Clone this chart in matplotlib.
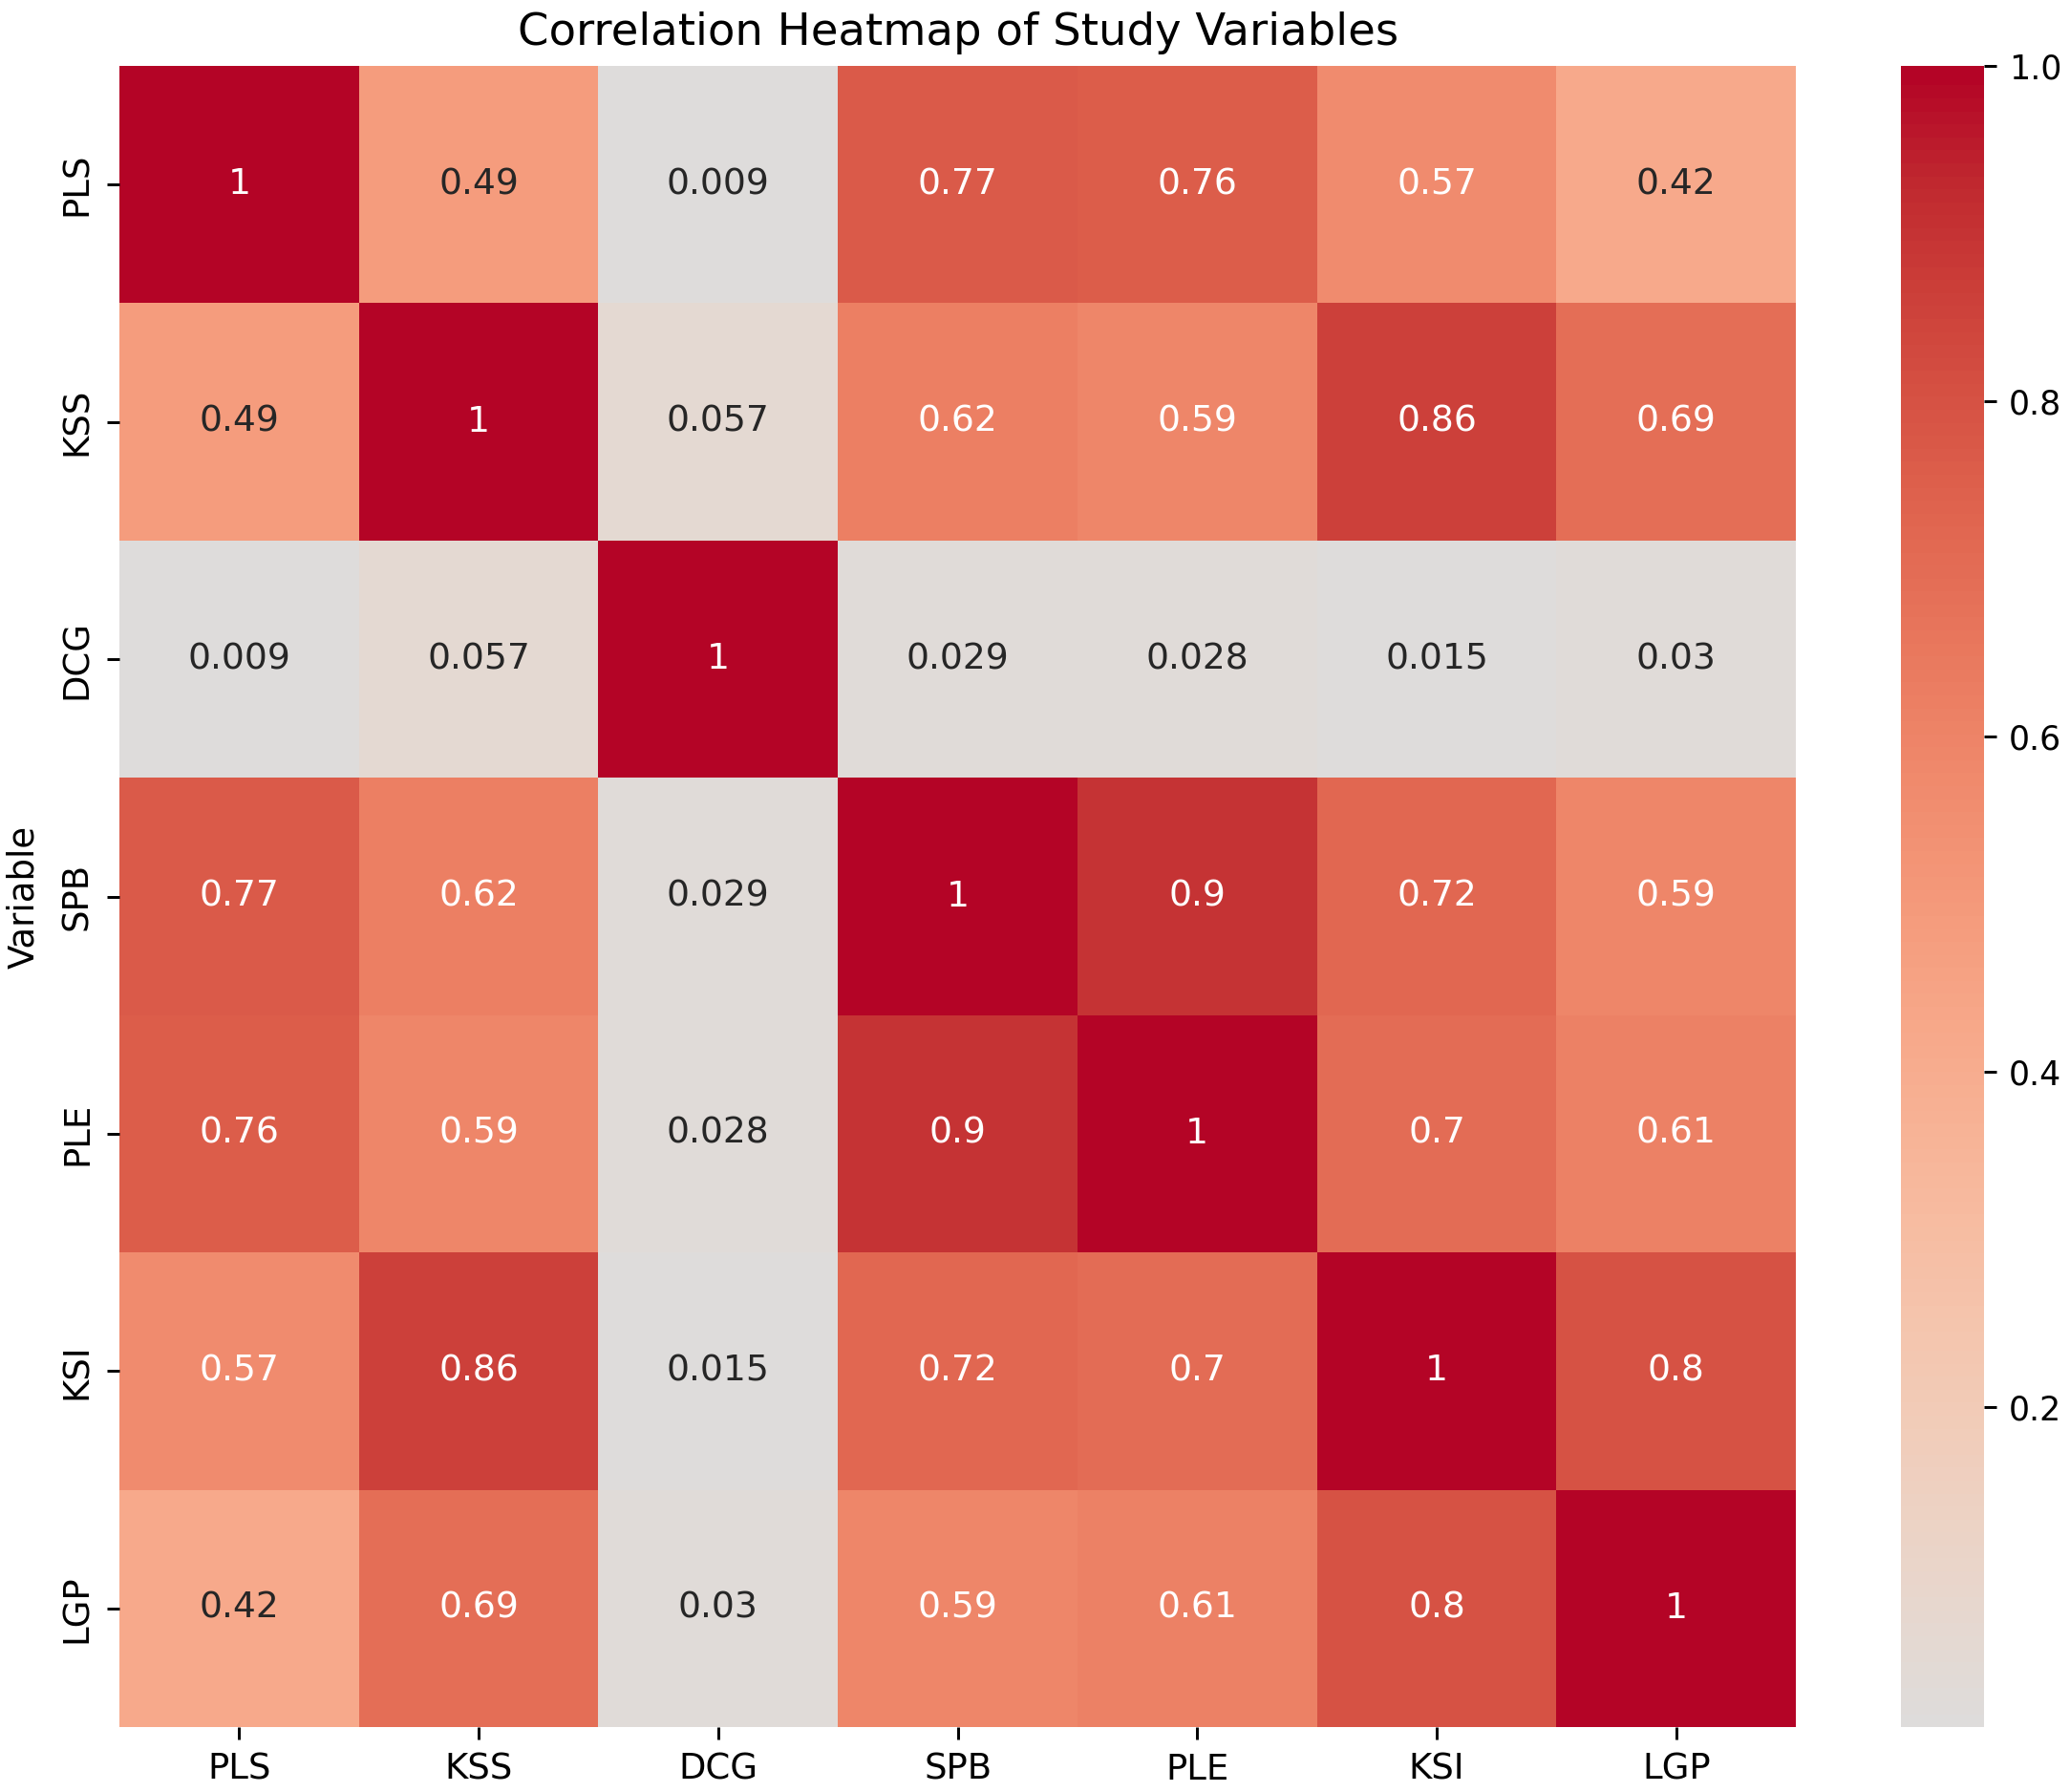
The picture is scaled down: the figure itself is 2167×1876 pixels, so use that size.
import matplotlib
matplotlib.use("Agg")
import matplotlib.pyplot as plt
import seaborn as sns
import pandas as pd

variables = ["PLS", "KSS", "DCG", "SPB", "PLE", "KSI", "LGP"]

pls = [1, 0.49, 0.009, 0.77, 0.76, 0.57, 0.42]
kss = [0.49, 1, 0.057, 0.62, 0.59, 0.86, 0.69]
dcg = [0.009, 0.057, 1, 0.029, 0.028, 0.015, 0.03]
spb = [0.77, 0.62, 0.029, 1, 0.9, 0.72, 0.59]
ple = [0.76, 0.59, 0.028, 0.9, 1, 0.7, 0.61]
ksi = [0.57, 0.86, 0.015, 0.72, 0.7, 1, 0.8]
lgp = [0.42, 0.69, 0.03, 0.59, 0.61, 0.8, 1]

corr = pd.DataFrame([pls, kss, dcg, spb, ple, ksi, lgp],
                    index=variables, columns=variables)

dpi = 266
fig = plt.figure(figsize=(2167 / dpi, 1876 / dpi), dpi=dpi)
ax = fig.add_axes([0.0577, 0.0362, 0.8099, 0.9270])
cax = fig.add_axes([0.9183, 0.0362, 0.0401, 0.9270])

sns.heatmap(corr, annot=True, annot_kws={"size": 10.2},
            cmap="coolwarm", center=0, ax=ax, cbar_ax=cax)
ax.set_title("Correlation Heatmap of Study Variables", fontsize=12.6)
ax.set_ylabel("Variable", labelpad=5)
ax.set_xlabel("")
cax.tick_params(labelsize=9.4)

fig.savefig("out.png", dpi=dpi)
plt.close(fig)
